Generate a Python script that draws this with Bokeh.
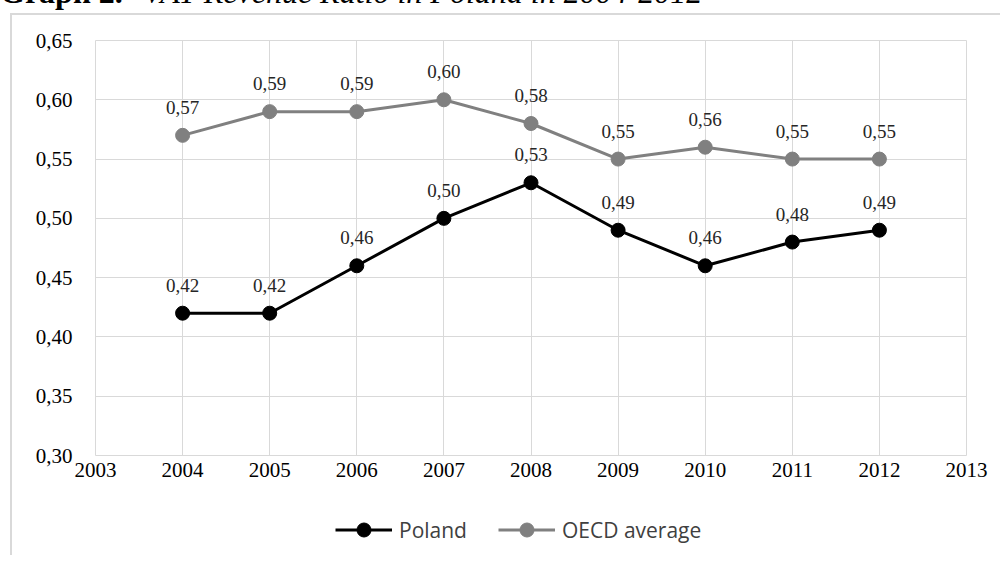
from bokeh.plotting import figure
from bokeh.layouts import column, row
from bokeh.models import (Range1d, FixedTicker, CustomJSTickFormatter, Legend, LegendItem,
                          ColumnDataSource, Div)
from bokeh.embed import file_html
from bokeh.resources import INLINE
from bokeh.core.properties import value

years = [2004, 2005, 2006, 2007, 2008, 2009, 2010, 2011, 2012]
poland = [0.42, 0.42, 0.46, 0.50, 0.53, 0.49, 0.46, 0.48, 0.49]
oecd = [0.57, 0.59, 0.59, 0.60, 0.58, 0.55, 0.56, 0.55, 0.55]
x_ticks = [2003, 2004, 2005, 2006, 2007, 2008, 2009, 2010, 2011, 2012, 2013]
y_ticks = [0.30, 0.35, 0.40, 0.45, 0.50, 0.55, 0.60, 0.65]
series_names = ["Poland", "OECD average"]
title_bold = "Graph 2."
title_italic = "VAT Revenue Ratio in Poland in 2004-2012"

def fmt(v):
    return f"{v:.2f}".replace(".", ",")

BORDER = "#d9d9d9"
TOTAL_W, TOTAL_H = 1000, 555
TITLE_H = 15          # title strip (clipped caption + top border line)
STRIP_W = 12          # left strip holding the left border line
LEG_H = 55
MAIN_H = TOTAL_H - TITLE_H - LEG_H
MAIN_W = TOTAL_W - STRIP_W
# desired frame position in page pixels
FL, FR, FT, FB = 95, 966, 40, 455

# ---- caption strip (only the bottom of the caption is visible, as in the source) ----
title_div = Div(width=TOTAL_W, height=TITLE_H, margin=0, styles={"overflow": "hidden"}, text=(
    f'<div style="position:relative;width:{TOTAL_W}px;height:{TITLE_H}px;overflow:hidden;">'
    f'<div style="position:absolute;left:0px;top:-24px;white-space:nowrap;'
    f"font-family:'Liberation Serif';font-size:32px;line-height:32px;color:#000;\">"
    f'<b style="display:inline-block;width:143px;">{title_bold}</b><i>{title_italic}</i></div>'
    f'<div style="position:absolute;left:10px;top:13px;width:{TOTAL_W - 10}px;height:2px;'
    f'background:{BORDER};"></div></div>'))

left_strip = Div(width=STRIP_W, height=MAIN_H + LEG_H, margin=0, text=(
    f'<div style="position:relative;width:{STRIP_W}px;height:{MAIN_H + LEG_H}px;">'
    f'<div style="position:absolute;left:10px;top:0px;width:2px;height:{MAIN_H + LEG_H}px;'
    f'background:{BORDER};"></div></div>'))

# ---- main chart ----
mb_left = FL - STRIP_W
mb_right = TOTAL_W - FR
mb_top = FT - TITLE_H
mb_bottom = TITLE_H + MAIN_H - FB

p = figure(width=MAIN_W, height=MAIN_H, output_backend="svg", toolbar_location=None,
           x_range=Range1d(x_ticks[0], x_ticks[-1]), y_range=Range1d(y_ticks[0], y_ticks[-1]),
           min_border_left=mb_left, min_border_right=mb_right,
           min_border_top=mb_top, min_border_bottom=mb_bottom)
p.background_fill_color = "white"
p.border_fill_color = "white"
p.outline_line_color = "#d9d9d9"
p.outline_line_width = 1
p.xgrid.grid_line_color = "#d9d9d9"
p.ygrid.grid_line_color = "#d9d9d9"

p.xaxis.ticker = FixedTicker(ticks=x_ticks)
p.yaxis.ticker = FixedTicker(ticks=y_ticks)
p.yaxis.formatter = CustomJSTickFormatter(code="return tick.toFixed(2).replace('.', ',');")
for ax in (p.xaxis, p.yaxis):
    ax.axis_line_color = None
    ax.major_tick_line_color = None
    ax.minor_tick_line_color = None
    ax.major_tick_out = 0
    ax.major_tick_in = 0
    ax.major_label_text_font = "Liberation Serif"
    ax.major_label_text_font_size = "21px"
    ax.major_label_text_color = "#000000"
p.xaxis.major_label_standoff = 7
p.yaxis.major_label_standoff = 23

colors = ["#000000", "#808080"]
for name, vals, col in zip(series_names, [poland, oecd], colors):
    src = ColumnDataSource(dict(x=years, y=vals, lab=[fmt(v) for v in vals]))
    p.line("x", "y", source=src, line_color=col, line_width=3)
    p.scatter("x", "y", source=src, size=14, fill_color=col, line_color=col)
    p.text("x", "y", text="lab", source=src, text_align="center", text_baseline="alphabetic",
           y_offset=-28, text_font=value("Liberation Serif"), text_font_size="19px",
           text_color="#262626")

# ---- legend strip ----
lf = figure(width=MAIN_W, height=LEG_H, output_backend="svg", toolbar_location=None,
            x_range=Range1d(0, 1), y_range=Range1d(0, 1),
            min_border_left=mb_left, min_border_right=mb_right,
            min_border_top=0, min_border_bottom=0)
lf.axis.visible = False
lf.grid.visible = False
lf.outline_line_color = None
lf.background_fill_color = "white"
lf.border_fill_color = "white"
items = []
for name, col in zip(series_names, colors):
    esrc = ColumnDataSource(dict(x=[-5], y=[-5]))
    ln = lf.line("x", "y", source=esrc, line_color=col, line_width=3)
    sc = lf.scatter("x", "y", source=esrc, size=14, fill_color=col, line_color=col)
    items.append(LegendItem(label=name, renderers=[ln, sc]))
legend = Legend(items=items, orientation="horizontal", location=(240, 8),
                glyph_width=57, glyph_height=35, label_standoff=7, spacing=31,
                padding=0, margin=0, border_line_color=None, background_fill_alpha=0,
                label_text_font="Open Sans", label_text_font_size="21px",
                label_text_color="#404040")
lf.add_layout(legend, "center")

layout = column(title_div, row(left_strip, column(p, lf, spacing=0), spacing=0), spacing=0)
open("out.html", "w").write(file_html(layout, INLINE))
